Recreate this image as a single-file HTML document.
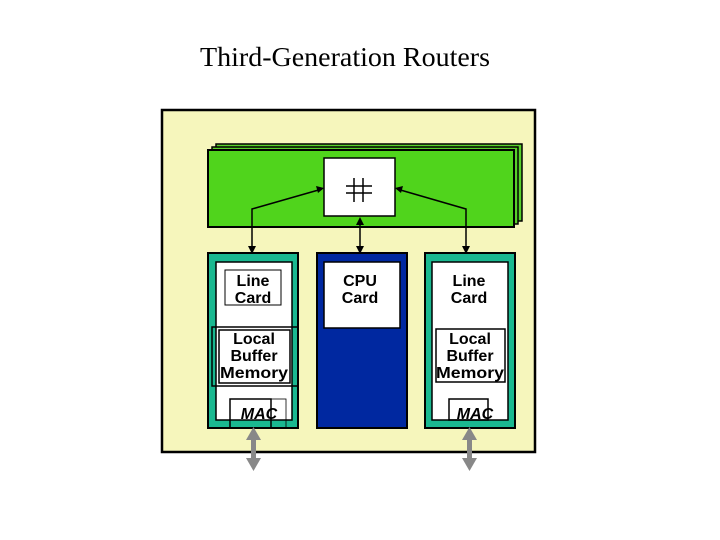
<!DOCTYPE html>
<html><head><style>body{margin:0;background:#fff}svg{display:block}</style></head><body>
<svg width="720" height="540" xmlns="http://www.w3.org/2000/svg" font-family="Liberation Sans, sans-serif">
<text x="345" y="66" font-family="Liberation Serif, serif" font-size="27" text-anchor="middle" textLength="290" lengthAdjust="spacingAndGlyphs">Third-Generation Routers</text>
<rect x="162" y="110" width="373" height="342" fill="#f6f6bc" stroke="#000" stroke-width="2.5"/>
<rect x="216" y="144" width="306" height="77" fill="#58d02a" stroke="#000" stroke-width="1.5"/>
<rect x="212" y="147" width="306" height="77" fill="#58d02a" stroke="#000" stroke-width="1.5"/>
<rect x="208" y="150" width="306" height="77" fill="#50d41c" stroke="#000" stroke-width="2"/>
<rect x="324" y="158" width="71" height="58" fill="#fff" stroke="#000" stroke-width="1.5"/>
<g stroke="#000" stroke-width="1.5"><line x1="354" y1="178" x2="354" y2="202"/><line x1="363" y1="178" x2="363" y2="202"/><line x1="346" y1="186" x2="372" y2="186"/><line x1="346" y1="193" x2="372" y2="193"/></g>
<g stroke="#000" stroke-width="1.5" fill="none"><polyline points="322,189 252,209 252,250"/><polyline points="397,189 466,209 466,250"/><line x1="360" y1="220" x2="360" y2="250"/></g>
<g fill="#000"><polygon points="248,246 256,246 252,254"/><polygon points="462,246 470,246 466,254"/><polygon points="356,246 364,246 360,254"/><polygon points="356,225 364,225 360,217"/><polygon points="324,188 316,186 318,193"/><polygon points="395,188 403,186 401,193"/></g>
<rect x="208" y="253" width="90" height="175" fill="#1ab890" stroke="#000" stroke-width="2"/>
<rect x="216" y="262" width="76" height="158" fill="#fff" stroke="#000" stroke-width="1.5"/>
<rect x="317" y="253" width="90" height="175" fill="#0028a0" stroke="#000" stroke-width="2"/>
<rect x="324" y="262" width="76" height="66" fill="#fff" stroke="#000" stroke-width="1.5"/>
<rect x="425" y="253" width="90" height="175" fill="#1ab890" stroke="#000" stroke-width="2"/>
<rect x="432" y="262" width="76" height="158" fill="#fff" stroke="#000" stroke-width="1.5"/>
<rect x="225" y="270" width="56" height="35" fill="#fff" stroke="#000" stroke-width="1"/>
<rect x="212" y="327" width="86" height="59" fill="none" stroke="#000" stroke-width="1.5"/>
<rect x="219" y="330" width="71" height="53" fill="#fff" stroke="#000" stroke-width="1.5"/>
<rect x="436" y="329" width="69" height="53" fill="#fff" stroke="#000" stroke-width="1.5"/>
<rect x="230" y="399" width="41" height="29" fill="none" stroke="#000" stroke-width="1.5"/>
<rect x="230" y="399" width="56" height="29" fill="none" stroke="#000" stroke-width="0.8"/>
<rect x="449" y="399" width="39" height="21" fill="none" stroke="#000" stroke-width="1.5"/>
<g font-size="16" font-weight="bold" text-anchor="middle">
<text x="253" y="286">Line</text><text x="253" y="303">Card</text>
<text x="360" y="286">CPU</text><text x="360" y="303">Card</text>
<text x="469" y="286">Line</text><text x="469" y="303">Card</text>
<text x="254" y="344">Local</text><text x="254" y="361">Buffer</text><text x="254" y="378" textLength="68" lengthAdjust="spacingAndGlyphs">Memory</text>
<text x="470" y="344">Local</text><text x="470" y="361">Buffer</text><text x="470" y="378" textLength="68" lengthAdjust="spacingAndGlyphs">Memory</text>
<text x="259" y="419" font-style="italic">MAC</text><text x="475" y="419" font-style="italic">MAC</text>
</g>
<g fill="#888"><rect x="251" y="436" width="5" height="26"/><polygon points="246,440 261,440 253.5,427"/><polygon points="246,458 261,458 253.5,471"/>
<rect x="467" y="436" width="5" height="26"/><polygon points="462,440 477,440 469.5,427"/><polygon points="462,458 477,458 469.5,471"/></g>
</svg>
</body></html>
